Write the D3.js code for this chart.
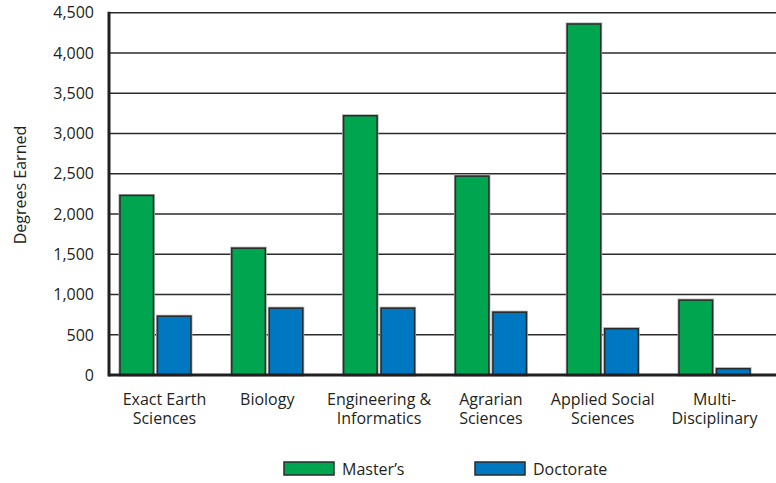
<!DOCTYPE html>
<html>
<head>
<meta charset="utf-8">
<script src="https://cdn.jsdelivr.net/npm/d3@7/dist/d3.min.js"></script>
<style>
  html, body { margin: 0; padding: 0; background: #fff; }
  svg { display: block; font-family: "Open Sans", sans-serif; }
</style>
</head>
<body>
<svg id="chart" width="776" height="483"></svg>
<script>
const categories = [
  ["Exact Earth", "Sciences"],
  ["Biology"],
  ["Engineering &", "Informatics"],
  ["Agrarian", "Sciences"],
  ["Applied Social", "Sciences"],
  ["Multi-", "Disciplinary"]
];
const seriesNames = ["Master\u2019s", "Doctorate"];
const masters   = [2230, 1575, 3220, 2470, 4360, 930];
const doctorate = [730, 830, 830, 780, 575, 78];
const yTicks = [0, 500, 1000, 1500, 2000, 2500, 3000, 3500, 4000, 4500];
const colors = ["#00a64f", "#0077c1"];

const svg = d3.select("#chart");
const catKeys = categories.map(c => c.join(" "));
const rows = catKeys.map((k, i) => ({ key: k, lines: categories[i], values: [masters[i], doctorate[i]] }));

const axisX = 109, gridRight = 776;
const y = d3.scaleLinear().domain([0, 4500]).range([375, 12.7]);
const x0 = d3.scaleBand().domain(catKeys).range([109, 761]).paddingInner(0.365).paddingOuter(0.098);
const x1 = d3.scaleBand().domain(seriesNames).range([0, x0.bandwidth()]).paddingInner(0.107);

// gridlines
svg.append("g").selectAll("line").data(yTicks.filter(t => t > 0)).join("line")
  .attr("x1", axisX).attr("x2", gridRight)
  .attr("y1", d => y(d)).attr("y2", d => y(d))
  .attr("stroke", "#2b2b2b").attr("stroke-width", 1.6);

// y tick labels
svg.append("g").selectAll("text").data(yTicks).join("text")
  .attr("x", 94).attr("y", d => y(d)).attr("dy", "0.36em")
  .attr("text-anchor", "end").attr("font-size", 16).attr("fill", "#231f20")
  .text(d => d3.format(",")(d));

// bars
const groups = svg.append("g").selectAll("g").data(rows).join("g")
  .attr("transform", d => `translate(${x0(d.key)},0)`);
groups.selectAll("rect.shadow").data(d => d.values.map((v, i) => ({ s: seriesNames[i], v, i }))).join("rect")
  .attr("class", "shadow")
  .attr("x", d => x1(d.s)).attr("width", x1.bandwidth())
  .attr("y", d => y(d.v)).attr("height", d => y(0) - y(d.v))
  .attr("fill", "none").attr("stroke", "#aaa").attr("stroke-width", 3);
groups.selectAll("rect.bar").data(d => d.values.map((v, i) => ({ s: seriesNames[i], v, i }))).join("rect")
  .attr("class", "bar")
  .attr("x", d => x1(d.s)).attr("width", x1.bandwidth())
  .attr("y", d => y(d.v)).attr("height", d => y(0) - y(d.v))
  .attr("fill", d => colors[d.i]).attr("stroke", "#2b2b2b").attr("stroke-width", 1.5);

// axes lines
svg.append("line").attr("x1", axisX).attr("x2", gridRight).attr("y1", y(0)).attr("y2", y(0))
  .attr("stroke", "#231f20").attr("stroke-width", 3);
svg.append("line").attr("x1", axisX).attr("x2", axisX).attr("y1", y(4500) - 1).attr("y2", y(0) + 1.5)
  .attr("stroke", "#231f20").attr("stroke-width", 3);

// x labels
const xl = svg.append("g").selectAll("text").data(rows).join("text")
  .attr("x", (d, i) => x0(d.key) + x0.bandwidth() / 2 + (i === 0 ? 9 : 0))
  .attr("y", 405).attr("text-anchor", "middle").attr("font-size", 16).attr("fill", "#231f20");
xl.selectAll("tspan").data(d => d.lines).join("tspan")
  .attr("x", function() { return d3.select(this.parentNode).attr("x"); })
  .attr("dy", (d, i) => i === 0 ? 0 : 19)
  .text(d => d);

// y title
svg.append("text").attr("transform", "translate(26,185) rotate(-90)")
  .attr("text-anchor", "middle").attr("font-size", 16).attr("fill", "#231f20")
  .text("Degrees Earned");

// legend
const legendX = [284, 475];
const lg = svg.append("g").selectAll("g").data(seriesNames).join("g")
  .attr("transform", (d, i) => `translate(${legendX[i]},462)`);
lg.append("rect").attr("width", 50).attr("height", 13)
  .attr("fill", (d, i) => colors[i]).attr("stroke", "#2b2b2b").attr("stroke-width", 1.5);
lg.append("text").attr("x", 58).attr("y", 13).attr("font-size", 16).attr("fill", "#231f20").text(d => d);
</script>
</body>
</html>
